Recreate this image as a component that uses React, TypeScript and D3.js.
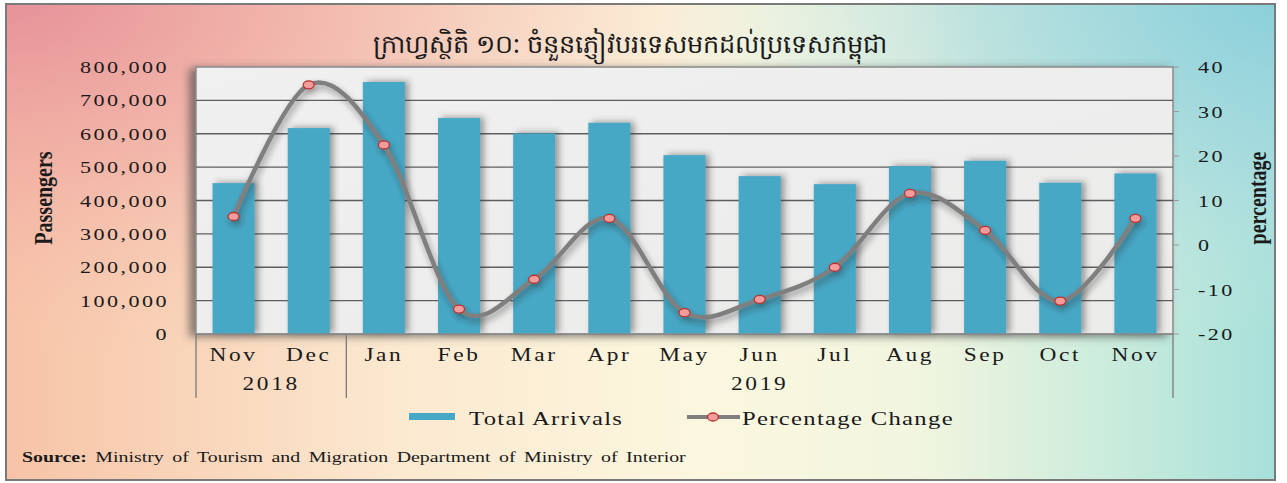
import React from 'react';
import * as d3 from 'd3';

const title = 'ក្រាហ្វស្ថិតិ ១០: ចំនួនភ្ញៀវបរទេសមកដល់ប្រទេសកម្ពុជា';
const months = ['Nov', 'Dec', 'Jan', 'Feb', 'Mar', 'Apr', 'May', 'Jun', 'Jul', 'Aug', 'Sep', 'Oct', 'Nov'];
const years = ['2018', '2019'];
const yearMonthCounts = [2, 11];
const arrivals = [452000, 617000, 755000, 647000, 601000, 633000, 536000, 473000, 449000, 503000, 519000, 453000, 481000];
const pctChange = [6.4, 36.0, 22.5, -14.4, -7.7, 6.0, -15.2, -12.2, -5.0, 11.6, 3.3, -12.6, 6.0];
const leftTicks = [0, 100000, 200000, 300000, 400000, 500000, 600000, 700000, 800000];
const rightTicks = [-20, -10, 0, 10, 20, 30, 40];
const legendLabels = ['Total Arrivals', 'Percentage Change'];

const W = 1287;
const H = 483;
const plot = { left: 196, right: 1173, top: 67, bottom: 334 };
const SERIF = '"Liberation Serif", "DejaVu Serif", serif';
const BAR = '#46a8c6';

// stretched serif text, like the source picture
function T(props: any) {
  const { x, y, anchor = 'start', size = 17, ls = 1.5, weight = 'normal', sx = 1.3, children } = props;
  return (
    <text
      transform={`translate(${x},${y}) scale(${sx},1)`}
      textAnchor={anchor}
      fontFamily={SERIF}
      fontSize={size}
      fontWeight={weight}
      letterSpacing={ls}
      fill="#1a1a1a"
    >
      {children}
    </text>
  );
}

export default function App() {
  const idx = months.map((_, i) => i);
  const x = d3.scaleBand<number>().domain(idx).range([plot.left, plot.right]).paddingInner(0.44).paddingOuter(0.22);
  const xc = (i: number) => (x(i) as number) + x.bandwidth() / 2;
  const yL = d3.scaleLinear().domain([0, 800000]).range([plot.bottom, plot.top]);
  const yR = d3.scaleLinear().domain([-20, 40]).range([plot.bottom, plot.top]);
  const fmt = d3.format(',');

  const line = d3
    .line<number>()
    .x((_, i) => xc(i))
    .y((d) => yR(d))
    .curve(d3.curveCardinal.tension(0));

  // year group boundaries
  const bounds: number[] = [plot.left];
  let acc = 0;
  yearMonthCounts.forEach((c) => {
    acc += c;
    bounds.push(plot.left + acc * (plot.right - plot.left) / months.length);
  });

  return (
    <svg width={W} height={H} style={{ position: 'absolute', left: 0, top: 0, display: 'block' }}>
      <defs>
        <linearGradient id="bgx" x1="0" x2="1" y1="0" y2="0">
          <stop offset="0" stopColor="#f7c3a6" />
          <stop offset="0.3" stopColor="#fbe8cf" />
          <stop offset="0.55" stopColor="#fcf7df" />
          <stop offset="0.72" stopColor="#f1f5df" />
          <stop offset="0.88" stopColor="#c8ebdc" />
          <stop offset="1" stopColor="#a6e0da" />
        </linearGradient>
        <radialGradient id="tl" cx="0" cy="0" r="1" gradientUnits="userSpaceOnUse" gradientTransform="translate(0,0) scale(780,360)">
          <stop offset="0" stopColor="#e58e98" stopOpacity="0.95" />
          <stop offset="0.5" stopColor="#efa6a2" stopOpacity="0.55" />
          <stop offset="1" stopColor="#f6c8b8" stopOpacity="0" />
        </radialGradient>
        <radialGradient id="tr" cx="0" cy="0" r="1" gradientUnits="userSpaceOnUse" gradientTransform="translate(1287,0) scale(640,340)">
          <stop offset="0" stopColor="#88cedb" stopOpacity="0.95" />
          <stop offset="0.5" stopColor="#a4d8df" stopOpacity="0.6" />
          <stop offset="1" stopColor="#cce9e4" stopOpacity="0" />
        </radialGradient>
        <linearGradient id="plotbg" x1="0" x2="1" y1="0" y2="1">
          <stop offset="0" stopColor="#f1f0f0" />
          <stop offset="1" stopColor="#ebebea" />
        </linearGradient>
        <filter id="plotShadow" x="-5%" y="-10%" width="110%" height="125%">
          <feDropShadow dx={-6} dy={2} stdDeviation={4} floodColor="#444" floodOpacity={0.65} />
        </filter>
        <filter id="barShadow" x="-30%" y="-10%" width="180%" height="120%">
          <feDropShadow dx={4} dy={-1} stdDeviation={3} floodColor="#333" floodOpacity={0.45} />
        </filter>
        <filter id="lineShadow" x="-5%" y="-20%" width="110%" height="140%">
          <feDropShadow dx={2} dy={4} stdDeviation={3} floodColor="#222" floodOpacity={0.45} />
        </filter>
      </defs>

      {/* background frame */}
      <rect x={0} y={0} width={W} height={H} fill="#ffffff" />
      <rect x={6} y={4} width={1269} height={476} fill="url(#bgx)" />
      <rect x={6} y={4} width={1269} height={476} fill="url(#tl)" />
      <rect x={6} y={4} width={1269} height={476} fill="url(#tr)" />
      <rect x={6} y={4} width={1269} height={476} fill="none" stroke="#7a7a7a" strokeWidth={2} />

      {/* title */}
      <text x={630} y={53} textAnchor="middle" fontFamily='"Noto Sans", "DejaVu Sans", sans-serif' fontSize={25.5} fill="#1a1a1a">
        {title}
      </text>

      {/* plot area */}
      <rect
        x={plot.left}
        y={plot.top}
        width={plot.right - plot.left}
        height={plot.bottom - plot.top}
        fill="url(#plotbg)"
        stroke="#8a8a8a"
        strokeWidth={1.5}
        filter="url(#plotShadow)"
      />
      {leftTicks.slice(1, -1).map((t) => (
        <line key={t} x1={plot.left} x2={plot.right} y1={yL(t)} y2={yL(t)} stroke="#5e5e5e" strokeWidth={1.3} />
      ))}
      {rightTicks.map((t) => (
        <line key={t} x1={plot.right} x2={plot.right + 6} y1={yR(t)} y2={yR(t)} stroke="#9a9a9a" strokeWidth={1} />
      ))}

      {/* bars */}
      <g filter="url(#barShadow)">
        {arrivals.map((v, i) => (
          <rect key={i} x={x(i)} y={yL(v)} width={x.bandwidth()} height={yL(0) - yL(v)} fill={BAR} />
        ))}
      </g>
      <line x1={plot.left} x2={plot.right} y1={plot.bottom} y2={plot.bottom} stroke="#8a8a8a" strokeWidth={1.5} />

      {/* percentage line */}
      <g filter="url(#lineShadow)">
        <path d={line(pctChange) || ''} fill="none" stroke="#7f7f7f" strokeWidth={4.5} strokeLinecap="round" />
        {pctChange.map((v, i) => (
          <ellipse key={i} cx={xc(i)} cy={yR(v)} rx={5.5} ry={4} fill="#f49c9c" stroke="#b8322e" strokeWidth={1.3} />
        ))}
      </g>

      {/* left axis labels */}
      {leftTicks.map((t) => (
        <T key={t} x={169} y={yL(t) + 6} anchor="end" size={17} ls={1.9}>
          {fmt(t)}
        </T>
      ))}
      {/* right axis labels */}
      {rightTicks.map((t) => (
        <T key={t} x={1198} y={yR(t) + 6} anchor="start" size={17} ls={1.9}>
          {t}
        </T>
      ))}

      {/* axis titles */}
      <text
        transform="translate(52,198) rotate(-90) scale(0.8,1)"
        textAnchor="middle"
        fontFamily={SERIF}
        fontWeight="bold"
        fontSize={25}
        fill="#1a1a1a"
      >
        Passengers
      </text>
      <text
        transform="translate(1266,198) rotate(-90) scale(0.8,1)"
        textAnchor="middle"
        fontFamily={SERIF}
        fontWeight="bold"
        fontSize={25}
        fill="#1a1a1a"
      >
        percentage
      </text>

      {/* category axis */}
      {months.map((m, i) => (
        <T key={i} x={xc(i)} y={361} anchor="middle" size={18} ls={2}>
          {m}
        </T>
      ))}
      {bounds.map((b, i) => (
        <line key={i} x1={b} x2={b} y1={plot.bottom} y2={398} stroke="#7a7a7a" strokeWidth={1.3} />
      ))}
      {years.map((yr, i) => (
        <T key={yr} x={(bounds[i] + bounds[i + 1]) / 2} y={390} anchor="middle" size={18} ls={2}>
          {yr}
        </T>
      ))}

      {/* legend */}
      <rect x={409} y={413} width={46} height={7} fill={BAR} />
      <T x={469} y={425} size={19} ls={1}>
        {legendLabels[0]}
      </T>
      <line x1={687} x2={740} y1={417} y2={417} stroke="#7f7f7f" strokeWidth={4} />
      <ellipse cx={713} cy={417} rx={5.5} ry={4} fill="#f49c9c" stroke="#b8322e" strokeWidth={1.3} />
      <T x={742} y={425} size={19} ls={1}>
        {legendLabels[1]}
      </T>

      {/* source */}
      <text
        transform="translate(22,462) scale(1.42,1)"
        fontFamily={SERIF}
        fontSize={14}
        wordSpacing={2.5}
        fill="#1a1a1a"
      >
        <tspan fontWeight="bold">Source:</tspan>
        <tspan> Ministry of Tourism and Migration Department of Ministry of Interior</tspan>
      </text>
    </svg>
  );
}
